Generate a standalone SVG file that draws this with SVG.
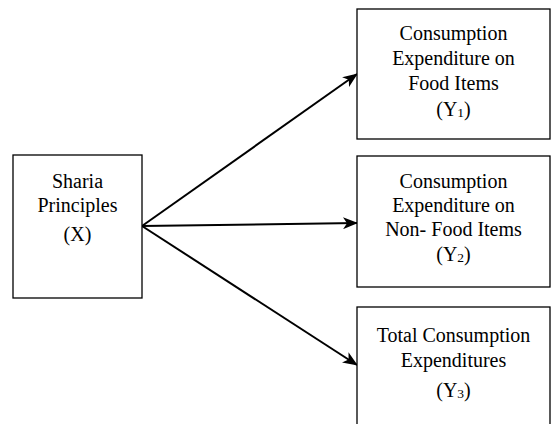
<svg xmlns="http://www.w3.org/2000/svg" width="552" height="424" viewBox="0 0 552 424">
<style>
.box{fill:#fff;stroke:#000;stroke-width:1.3}
.t{font-family:"Liberation Serif","Times New Roman",serif;font-size:20px;fill:#000;text-anchor:middle}
.sub{font-size:13.5px}
.c{stroke:#000;stroke-width:2;fill:none}
</style>
<defs>
<marker id="ah" viewBox="0 0 15 12" refX="14" refY="6" markerWidth="15" markerHeight="12" markerUnits="userSpaceOnUse" orient="auto">
<path d="M0,0 L15,6 L0,12 L4,6 Z" fill="#000"/>
</marker>
</defs>
<rect width="552" height="424" fill="#fff"/>
<g id="connectors">
<line class="c" x1="142" y1="226" x2="357" y2="74" marker-end="url(#ah)"/>
<line class="c" x1="142" y1="226" x2="357" y2="223" marker-end="url(#ah)"/>
<line class="c" x1="142" y1="226" x2="357" y2="365" marker-end="url(#ah)"/>
</g>
<g id="node-x">
<rect class="box" x="13" y="155" width="129" height="143"/>
<text class="t" x="77.5" y="188">Sharia</text>
<text class="t" x="77.5" y="212">Principles</text>
<text class="t" x="77.5" y="241">(X)</text>
</g>
<g id="node-y1">
<rect class="box" x="357" y="9" width="193" height="130"/>
<text class="t" x="453.5" y="40">Consumption</text>
<text class="t" x="453.5" y="65">Expenditure on</text>
<text class="t" x="453.5" y="90">Food Items</text>
<text class="t" x="453.5" y="116">(Y<tspan class="sub" dy="1">1</tspan><tspan dy="-1">)</tspan></text>
</g>
<g id="node-y2">
<rect class="box" x="357" y="156" width="193" height="131"/>
<text class="t" x="453.5" y="188">Consumption</text>
<text class="t" x="453.5" y="212">Expenditure on</text>
<text class="t" x="453.5" y="236">Non- Food Items</text>
<text class="t" x="453.5" y="261">(Y<tspan class="sub" dy="1">2</tspan><tspan dy="-1">)</tspan></text>
</g>
<g id="node-y3">
<rect class="box" x="357" y="307" width="193" height="125"/>
<text class="t" x="453.5" y="342">Total Consumption</text>
<text class="t" x="453.5" y="367">Expenditures</text>
<text class="t" x="453.5" y="397">(Y<tspan class="sub" dy="1">3</tspan><tspan dy="-1">)</tspan></text>
</g>
</svg>
